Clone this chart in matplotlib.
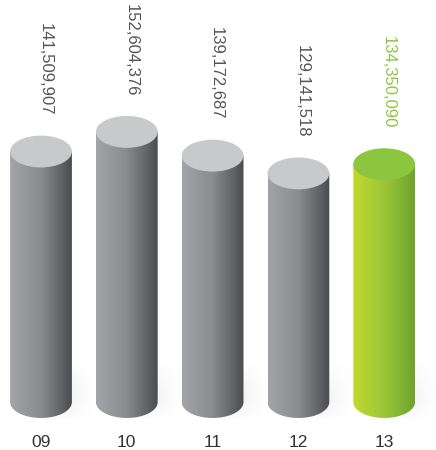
import numpy as np
import matplotlib
matplotlib.use("Agg")
import matplotlib.pyplot as plt
from matplotlib.patches import Ellipse, Polygon
from matplotlib.colors import LinearSegmentedColormap

# ===== Data =====
years = ["09", "10", "11", "12", "13"]
values = [141509907, 152604376, 139172687, 129141518, 134350090]
highlight = [False, False, False, False, True]

vals_m = np.array(values) / 1e6

# ===== Style =====
gray_body = LinearSegmentedColormap.from_list("gray_body", ["#a3a4a8", "#8a8b8f", "#4b4c4e"])
green_body = LinearSegmentedColormap.from_list("green_body", ["#c4d82e", "#9cc638", "#6ea32f"])
gray_top = "#c8c9cb"
green_top = "#8cc63f"
gray_text = "#555555"
green_text = "#8cc63f"

plt.rcParams['font.family'] = ['Liberation Sans', 'DejaVu Sans']

fig = plt.figure(figsize=(4.36, 4.5), dpi=100)
ax = fig.add_axes([0, 0, 1, 1])
ax.set_xlim(-0.478, 4.604)
ax.set_ylim(-27.1, 227.1)
ax.axis("off")

w = 0.72      # cylinder width (x units)
eh = 18.0     # ellipse height (y units)
theta = np.linspace(np.pi, 2 * np.pi, 60)
grad = np.linspace(0, 1, 256).reshape(1, -1)

# shadow texture: fades to the right and to top / bottom
sh = np.linspace(1, 0, 128).reshape(1, -1) ** 1.5
sy = np.linspace(0, 1, 64).reshape(-1, 1)
prof = np.sin(np.pi * sy) ** 1.2 * sy ** 0.8
shadow_rgba = np.zeros((64, 128, 4))
shadow_rgba[..., :3] = 0.6
shadow_rgba[..., 3] = sh * prof / prof.max() * 0.35

for i, (yr, v, hl) in enumerate(zip(years, vals_m, highlight)):
    cmap = green_body if hl else gray_body
    top_c = green_top if hl else gray_top
    txt_c = green_text if hl else gray_text

    ax.imshow(shadow_rgba, extent=[i, i + w / 2 + 0.3, -eh * 0.6, 26],
              aspect="auto", zorder=1, interpolation="bilinear")

    # body: rectangle + lower half of bottom ellipse
    arc_x = i + (w / 2) * np.cos(theta)
    arc_y = (eh / 2) * np.sin(theta)
    pts = [(i - w / 2, v)] + list(zip(arc_x, arc_y)) + [(i + w / 2, v)]
    clip = Polygon(pts, closed=True, transform=ax.transData, facecolor="none", edgecolor="none")
    ax.add_patch(clip)
    im = ax.imshow(grad, cmap=cmap, extent=[i - w / 2, i + w / 2, -eh / 2, v],
                   aspect="auto", zorder=2, interpolation="bilinear")
    im.set_clip_path(clip)

    # top ellipse
    ax.add_patch(Ellipse((i, v), w, eh, facecolor=top_c, edgecolor="none", zorder=3))

    # value label
    ax.annotate(f"{values[i]:,}", (i, v), xytext=(4, 36), textcoords="offset pixels",
                rotation=-90, ha="center", va="bottom", fontsize=12, color=txt_c)

    # year label
    ax.annotate(yr, (i, 0), xytext=(0, -40), textcoords="offset pixels",
                ha="center", va="center", fontsize=12.5, color="#333333")

fig.savefig("out.png", dpi=100)
